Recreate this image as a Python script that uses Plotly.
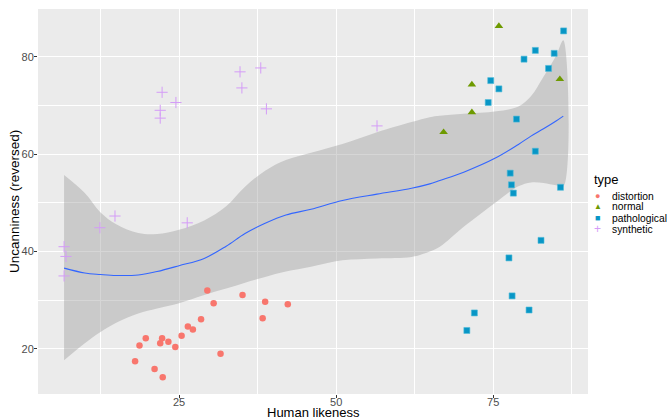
import plotly.graph_objects as go

# ---- data ----
distortion_x = [18.0, 18.7, 19.7, 21.1, 22.0, 22.3, 22.4, 23.3, 24.4, 25.4, 26.4, 27.2, 28.5, 29.5, 30.5, 31.6, 35.1, 38.7, 38.3, 42.3]
distortion_y = [17.5, 20.7, 22.2, 15.9, 21.2, 22.2, 14.2, 21.5, 20.4, 22.7, 24.6, 24.0, 26.1, 32.0, 29.4, 19.0, 31.1, 29.7, 26.3, 29.2]

normal_x = [75.9, 71.6, 71.6, 67.1, 85.6]
normal_y = [86.3, 74.3, 68.6, 64.5, 75.4]

pathological_x = [86.2, 81.7, 84.7, 79.9, 83.8, 74.6, 75.9, 74.2, 78.7, 81.7, 77.7, 77.9, 78.2, 85.7, 82.6, 77.5, 78.0, 80.7, 72.0, 70.8]
pathological_y = [85.3, 81.3, 80.7, 79.5, 77.6, 75.1, 73.4, 70.6, 67.2, 60.6, 56.1, 53.7, 52.0, 53.2, 42.3, 38.7, 30.9, 28.0, 27.4, 23.8]

synthetic_x = [22.3, 24.5, 22.0, 22.0, 6.7, 7.0, 6.7, 12.4, 14.8, 26.3, 34.7, 38.0, 35.0, 38.9, 56.5]
synthetic_y = [72.7, 70.6, 69.0, 67.4, 41.0, 39.0, 35.0, 44.9, 47.3, 45.9, 76.9, 77.7, 73.6, 69.3, 65.8]

smooth_x = [6.7, 10, 12.5, 15, 18.5, 21.5, 25, 29, 32.5, 35.5, 38.7, 42, 46, 51, 56.5, 62, 64.9, 66.5, 70.3, 75.5, 79, 81, 83, 85, 86.15]
smooth_fit = [36.6, 35.6, 35.3, 35.1, 35.2, 35.9, 37.1, 38.6, 41.1, 43.7, 45.8, 47.5, 48.7, 50.5, 51.8, 53.0, 53.9, 54.6, 56.3, 59.3, 62.0, 63.7, 65.2, 66.8, 67.8]
smooth_hi = [55.7, 52.0, 48.0, 45.6, 43.8, 43.6, 44.5, 46.4, 49.3, 53.3, 56.6, 58.8, 60.3, 62.1, 64.5, 66.6, 67.6, 67.9, 68.3, 68.8, 69.8, 71.9, 75.9, 80.2, 83.4]
smooth_lo = [17.7, 21.2, 23.5, 25.4, 27.3, 28.3, 29.4, 31.1, 32.4, 33.6, 34.8, 35.9, 36.9, 38.2, 38.6, 38.9, 40.0, 41.0, 45.1, 50.2, 53.4, 54.2, 54.1, 53.6, 53.3]

x_ticks = [25, 50, 75]
y_ticks = [20, 40, 60, 80]

legend_names = ['distortion', 'normal', 'pathological', 'synthetic']
legend_keys = ['●', '▲', '■', '+']
legend_colors = ['#F8766D', '#6E9A00', '#0896C6', '#D49CF7']

fig = go.Figure()

# confidence band
fig.add_trace(go.Scatter(x=smooth_x + smooth_x[::-1], y=smooth_hi + smooth_lo[::-1],
                         fill='toself', fillcolor='rgba(153,153,153,0.4)', line=dict(width=0),
                         mode='lines', line_shape='spline', hoverinfo='skip', showlegend=False))
fig.add_trace(go.Scatter(x=smooth_x, y=smooth_fit, mode='lines', line=dict(color='#3366FF', width=1.1, shape='spline'),
                         showlegend=False, hoverinfo='skip'))

fig.add_trace(go.Scatter(x=distortion_x, y=distortion_y, mode='markers', name='distortion',
                         marker=dict(symbol='circle', size=6.5, color='#F8766D')))
fig.add_trace(go.Scatter(x=normal_x, y=normal_y, mode='markers', name='normal',
                         marker=dict(symbol='triangle-up', size=7.5, color='#6E9A00')))
fig.add_trace(go.Scatter(x=pathological_x, y=pathological_y, mode='markers', name='pathological',
                         marker=dict(symbol='square', size=6, color='#0896C6', line=dict(color='#4FBCD8', width=0.6))))
fig.add_trace(go.Scatter(x=synthetic_x, y=synthetic_y, mode='markers', name='synthetic',
                         marker=dict(symbol='cross-thin', size=8, line=dict(color='#D49CF7', width=1))))

axis_common = dict(showline=False, zeroline=False, gridcolor='white', gridwidth=1.1,
                   ticks='outside', ticklen=3, tickcolor='#333333', tickwidth=1,
                   tickfont=dict(family='Liberation Sans, Arial', size=11, color='#4D4D4D'))

fig.update_xaxes(range=[2.55, 90.08], tickvals=x_ticks, ticktext=[str(v) for v in x_ticks],
                 ticklabelstandoff=-5,
                 minor=dict(showgrid=True, gridcolor='white', gridwidth=0.5, dtick=12.5, tick0=0, ticks=''),
                 **axis_common)
fig.update_yaxes(range=[10.76, 89.8], tickvals=y_ticks, ticktext=[str(v) for v in y_ticks],
                 ticklabelstandoff=-2,
                 minor=dict(showgrid=True, gridcolor='white', gridwidth=0.5, dtick=10, tick0=0, ticks=''),
                 **axis_common)

# panel: x 38..588 px, y 9..394 px
W_PANEL, H_PANEL, L, B = 550.0, 385.0, 38.0, 394.0
def px(xp):
    return (xp - L) / W_PANEL
def py(yp):
    return (B - yp) / H_PANEL

annotations = [
    dict(text='Human likeness', xref='paper', yref='paper', x=0.5, y=0, yshift=-10, borderpad=0,
         xanchor='center', yanchor='top', showarrow=False, font=dict(size=13, color='black')),
    dict(text='Uncanniness (reversed)', xref='paper', yref='paper', x=0, xshift=-15, y=0.5, borderpad=0,
         xanchor='right', yanchor='middle', textangle=-90, showarrow=False,
         font=dict(size=13.5, color='black')),
    dict(text='type', xref='paper', yref='paper', x=px(593), y=py(179), xanchor='left', yanchor='middle',
         borderpad=0, showarrow=False, font=dict(size=13, color='black')),
]
key_sizes = [9, 8, 9, 12]
for i, (nm, k, c) in enumerate(zip(legend_names, legend_keys, legend_colors)):
    yy = 196 + 11 * i
    annotations.append(dict(text=k, xref='paper', yref='paper', x=px(598), y=py(yy), xanchor='center',
                            yanchor='middle', borderpad=0, showarrow=False, font=dict(size=key_sizes[i], color=c)))
    annotations.append(dict(text=nm, xref='paper', yref='paper', x=px(611), y=py(yy), xanchor='left',
                            yanchor='middle', borderpad=0, showarrow=False, font=dict(size=10.3, color='black')))

fig.update_layout(
    width=668, height=420,
    margin=dict(l=38, r=80, t=9, b=26),
    plot_bgcolor='#EBEBEB', paper_bgcolor='white',
    font=dict(family='Liberation Sans, Arial', color='black'),
    showlegend=False,
    annotations=annotations,
)

fig.write_html('out.html')
